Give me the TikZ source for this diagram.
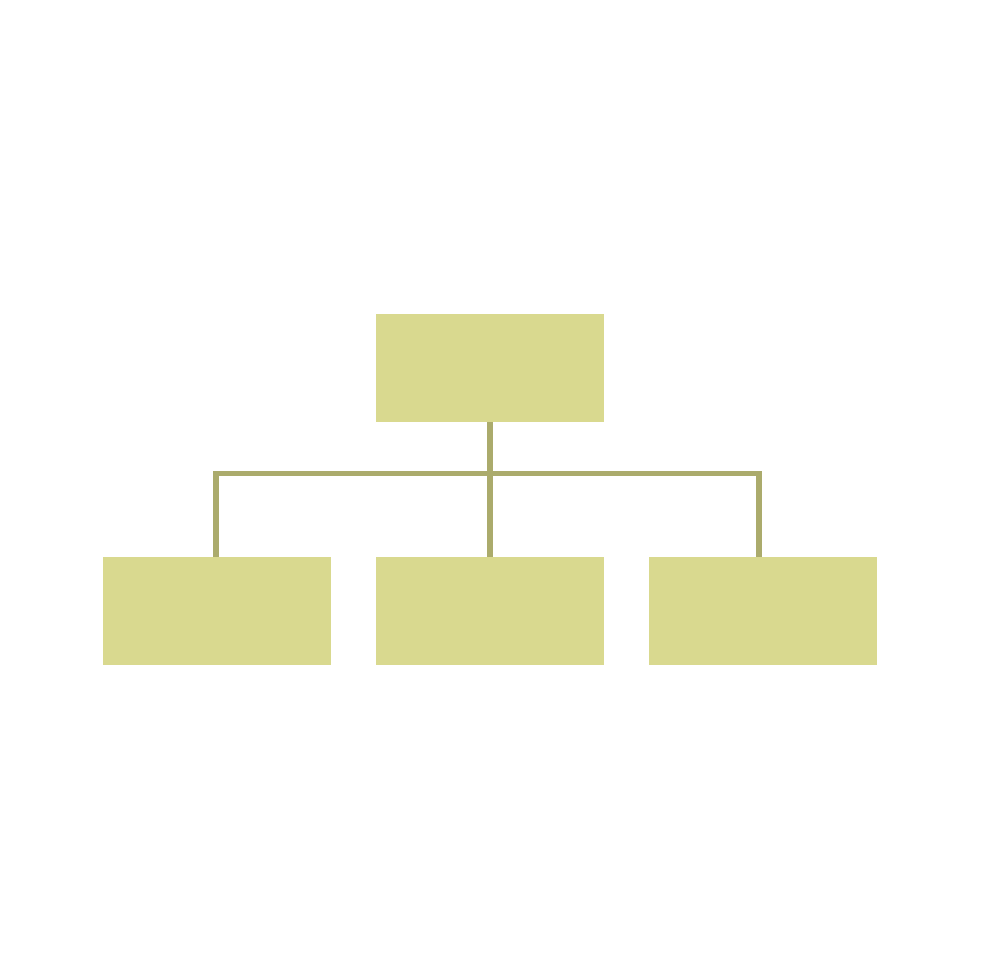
\documentclass[tikz,border=0pt]{standalone}
\definecolor{boxfill}{HTML}{D9D98F}
\definecolor{linkcol}{HTML}{ABAB6C}
\begin{document}
\begin{tikzpicture}[x=1pt,y=-1pt,
  orgbox/.style={fill=boxfill,draw=none,minimum width=228pt,minimum height=108pt,inner sep=0pt,outer sep=0pt},
  link/.style={draw=linkcol,line width=5.5pt}]
\useasboundingbox (0,0) rectangle (980,980);
\node[orgbox] (top) at (490,368) {};
\node[orgbox] (left) at (217,611) {};
\node[orgbox] (mid) at (490,611) {};
\node[orgbox] (right) at (763,611) {};
\coordinate (bar) at (490,473.5);
\draw[link] (top.south) -- (mid.north);
\draw[link] (left.north -| 216,0) |- (bar) -| (right.north -| 759,0);
\end{tikzpicture}
\end{document}
